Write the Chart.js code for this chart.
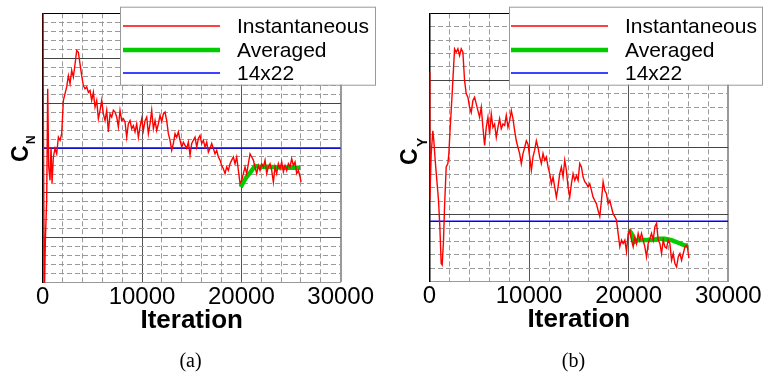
<!DOCTYPE html>
<html>
<head>
<meta charset="utf-8">
<script src="https://cdn.jsdelivr.net/npm/chart.js@4.4.1/dist/chart.umd.min.js"></script>
<style>
  html, body { margin: 0; padding: 0; background: #fff; }
  #wrap { position: relative; width: 770px; height: 373px; overflow: hidden; }
  .panel { position: absolute; top: 0; width: 385px; height: 373px; }
  .cap { position: absolute; top: 349px; width: 385px; text-align: center;
         font: 20px "Liberation Serif", "Times New Roman", serif; color: #000; }
</style>
</head>
<body>
<div id="wrap">
  <div class="panel" style="left:0"><canvas id="chartN" width="385" height="373"></canvas></div>
  <div class="panel" style="left:385px"><canvas id="chartY" width="385" height="373"></canvas></div>
  <div class="cap" style="left:-2px">(a)</div>
  <div class="cap" style="left:381px">(b)</div>
</div>
<script>
// --- data (y axes carry no tick labels, units arbitrary) ---
const xTicks = [0, 10000, 20000, 30000];
const refIter = [0, 30000];

// (a) C_N
const nIter = [0,168,270,400,503,604,738,839,940,1074,1242,1409,1577,1745,1913,
  2081,2248,2416,2584,2752,2919,3087,3255,3423,3591,3758,3926,4094,4262,4430,4597,4765,4933,5101,5268,
  5436,5604,5772,5940,6107,6275,6443,6611,6779,6946,7114,7282,7450,7617,7785,7953,8121,8289,8456,8624,
  8792,8960,9128,9295,9463,9631,9799,9966,10134,10302,10470,10638,10805,10973,11141,11309,11477,11644,11812,11980,
  12148,12315,12483,12651,12819,12987,13154,13322,13490,13658,13826,13993,14161,14329,14497,14664,14832,15000,15168,15336,
  15503,15671,15839,16007,16174,16342,16510,16678,16846,17013,17181,17349,17517,17685,17852,18020,18188,18356,18523,18691,
  18859,19027,19195,19362,19530,19698,19866,20034,20201,20369,20537,20705,20872,21040,21208,21376,21544,21711,21879,22047,
  22215,22383,22550,22718,22886,23054,23221,23389,23557,23725,23893,24060,24228,24396,24564,24732,24899,25067,25235,25403,
  25570,25738,25906,26007];
const nInst = [6.2,-0.3,0.95,1.84,4.32,2.58,2.28,3.02,2.22,2.8,2.99,2.87,3.24,3.17,3.32,
  4.06,4.21,4.36,4.61,4.43,4.73,4.58,4.87,5.17,5.13,
  4.87,4.61,4.39,4.32,4.36,4.24,4.28,4.06,4.24,3.91,
  4.06,3.65,3.84,4.06,3.76,3.61,3.84,3.36,3.76,3.69,
  3.84,3.8,3.69,3.47,3.84,3.61,3.65,3.58,3.24,3.54,
  3.61,3.43,3.5,3.36,3.54,3.24,3.47,3.65,3.39,3.61,
  3.69,3.32,3.54,3.84,3.43,3.61,3.39,3.54,3.73,3.58,
  3.76,3.8,3.61,3.32,3.17,2.95,3.1,3.32,3.24,3.36,
  3.17,3.02,3.13,3.06,2.99,3.13,2.84,3.1,3.17,3.24,
  3.02,3.21,3.28,3.1,3.17,3.02,3.13,2.91,2.99,3.1,
  2.99,2.87,2.95,2.8,2.73,2.61,2.54,2.43,2.58,2.5,
  2.65,2.73,2.8,2.65,2.8,2.5,2.21,2.28,2.43,2.58,
  2.43,2.65,2.87,2.8,2.73,2.58,2.43,2.61,2.5,2.65,
  2.58,2.73,2.43,2.58,2.65,2.5,2.24,2.58,2.43,2.65,
  2.54,2.69,2.47,2.61,2.5,2.65,2.58,2.76,2.61,2.69,
  2.43,2.5,2.36,2.24];
const nAvgIter = [19933,20201,20537,20940,21376,21879,22550,23557,24564,25906];
const nAvg = [2.13,2.24,2.36,2.47,2.6,2.58,2.58,2.57,2.56,2.56];
const nRef = [3.0, 3.0];

// (b) C_Y
const yIter = [0,34,168,335,436,570,738,905,1039,1173,1274,1408,1509,1676,1844,1944,2078,2179,2347,2514,
  2682,2849,3017,3185,3352,3520,3688,
  3855,4023,4190,4358,4526,4693,4861,5028,5196,5364,
  5531,5699,5867,6034,6202,6369,6537,6705,6872,7040,
  7207,7375,7543,7710,7878,8046,8213,8381,8548,8716,
  8884,9051,9219,9386,9554,9722,9889,10057,10225,10392,
  10560,10727,10895,11063,11230,11398,11565,11733,11901,12068,
  12236,12404,12571,12739,12906,13074,13242,13409,13577,13744,
  13912,14080,14247,14415,14583,14750,14918,15085,15253,15421,
  15588,15756,15923,16091,16259,16426,16594,16762,16929,17097,
  17264,17432,17600,17767,17935,18102,18270,18438,18605,18773,
  18940,19108,19276,19443,19611,19779,19946,20114,20281,20449,
  20616,20784,20952,21119,21287,21455,21622,21790,21957,22125,
  22292,22460,22628,22795,22963,23131,23298,23466,23633,23801,
  23968,24136,24304,24471,24639,24807,24974,25142,25309,25477,
  25645,25812,25913,26047];
const yInst = [3.12,1.21,1.9,2.25,2.1,1.81,1.51,1.21,0.82,0.27,0.25,0.62,1.11,1.71,1.76,1.91,2.3,2.55,3.0,3.47,
  3.42,3.47,3.37,3.47,3.42,3.0,2.8,
  2.75,2.6,2.52,2.7,2.75,2.65,2.55,2.45,2.6,2.3,
  2.03,2.3,2.45,2.2,2.5,2.3,2.35,2.15,2.3,2.43,
  2.28,2.35,2.33,2.48,2.3,2.4,2.55,2.43,2.25,2.1,
  2.0,1.91,1.76,1.91,2.0,2.1,2.05,1.86,1.66,1.86,
  1.96,2.1,2.0,1.86,1.76,1.91,1.81,1.86,1.71,1.61,
  1.46,1.56,1.41,1.26,1.41,1.61,1.71,1.56,1.81,1.66,
  1.41,1.26,1.46,1.61,1.51,1.58,1.51,1.76,1.71,1.56,
  1.49,1.46,1.41,1.46,1.36,1.26,1.21,1.16,1.06,0.97,
  1.21,1.49,1.36,1.31,1.16,1.21,1.11,1.01,0.97,0.92,
  0.72,0.52,0.62,0.57,0.62,0.45,0.72,0.77,0.62,0.52,
  0.67,0.57,0.72,0.62,0.72,0.62,0.52,0.37,0.57,0.64,
  0.72,0.62,0.82,0.87,0.62,0.57,0.42,0.62,0.52,0.5,
  0.62,0.57,0.32,0.42,0.27,0.22,0.37,0.42,0.32,0.42,
  0.52,0.54,0.5,0.35];
const yAvgIter = [20045,20281,20548,20952,22292,22963,23633,24304,24974,25645,25980];
const yAvg = [0.77,0.72,0.59,0.62,0.62,0.64,0.64,0.62,0.58,0.54,0.54];
const yRef = [0.9, 0.9];

const FONT = '"Liberation Sans", Arial, sans-serif';
Chart.defaults.font.family = FONT;
Chart.defaults.color = '#000';

function toXY(xs, ys) {
  return xs.map((x, i) => ({ x: x, y: ys[i] }));
}

// rotated y-axis title with a subscript (C_N / C_Y)
const yTitle = {
  id: 'yTitle',
  afterDraw(chart, args, o) {
    const c = chart.ctx;
    c.save();
    c.translate(o.x, o.y);
    c.rotate(-Math.PI / 2);
    c.fillStyle = '#000';
    c.textAlign = 'left';
    c.textBaseline = 'alphabetic';
    c.font = 'bold 23px ' + FONT;
    c.fillText(o.main, 0, 0);
    c.font = 'bold ' + o.subSize + 'px ' + FONT;
    c.fillText(o.sub, o.subDx, o.subDy);
    c.restore();
  }
};

// framed legend that sticks out past the plot, like the original
const boxLegend = {
  id: 'boxLegend',
  afterDraw(chart, args, o) {
    const c = chart.ctx;
    c.save();
    c.fillStyle = '#fff';
    c.fillRect(o.x, o.y, o.w, o.h);
    c.strokeStyle = '#999';
    c.lineWidth = 1;
    c.strokeRect(o.x + 0.5, o.y + 0.5, o.w, o.h);
    chart.data.datasets.forEach((ds, i) => {
      const yy = o.y + o.rows[i];
      c.strokeStyle = ds.borderColor;
      c.lineWidth = ds.borderWidth;
      c.beginPath();
      c.moveTo(o.x + o.line0, yy);
      c.lineTo(o.x + o.line1, yy);
      c.stroke();
      c.fillStyle = '#000';
      c.font = '21px ' + FONT;
      c.textAlign = 'left';
      c.textBaseline = 'middle';
      c.fillText(ds.label, o.x + o.text, yy + 1);
    });
    c.restore();
  }
};

function makeChart(id, p) {
  return new Chart(document.getElementById(id), {
    type: 'line',
    data: {
      datasets: [
        { label: 'Instantaneous', data: toXY(p.iter, p.inst), borderColor: '#ff0000', borderWidth: 1.4, pointRadius: 0, tension: 0 },
        { label: 'Averaged', data: toXY(p.avgIter, p.avg), borderColor: '#00cc00', borderWidth: 4.5, pointRadius: 0, tension: 0 },
        { label: '14x22', data: toXY(refIter, p.ref), borderColor: '#0000ff', borderWidth: 1.6, pointRadius: 0 }
      ]
    },
    options: {
      responsive: false,
      animation: false,
      devicePixelRatio: 1,
      layout: { autoPadding: false, padding: { left: 0, top: 13.3, right: p.padRight, bottom: p.padBottom } },
      plugins: {
        legend: { display: false },
        tooltip: { enabled: false },
        yTitle: p.title,
        boxLegend: p.legend
      },
      scales: {
        xMinor: {
          type: 'linear', position: 'bottom', min: 0, max: 30000, z: -1,
          ticks: { display: false, stepSize: 2000 },
          grid: { color: '#9a9a9a', lineWidth: 1, drawTicks: false },
          border: { display: false, dash: [5, 3] },
          afterFit(s) { s.height = 0; }
        },
        x: {
          type: 'linear', position: 'bottom', min: 0, max: 30000,
          ticks: {
            stepSize: 10000, autoSkip: false, maxRotation: 0, padding: 0,
            font: { size: 24 }, color: '#000',
            callback: v => xTicks.includes(v) ? String(v) : ''
          },
          grid: {
            color: c => c.tick.value === 30000 ? '#999' : '#555',
            lineWidth: c => c.tick.value === 30000 ? 2 : 1,
            drawTicks: false
          },
          border: { color: '#999', width: 1 },
          title: { display: true, text: 'Iteration', font: { size: 26, weight: 'bold' }, color: '#000', padding: 0 },
          afterFit(s) { s.height = 54; }
        },
        yMinor: {
          type: 'linear', position: 'left', min: 0, max: p.yMax, z: -1,
          ticks: { display: false, stepSize: 0.2 },
          grid: { color: '#9a9a9a', lineWidth: 1, drawTicks: false },
          border: { display: false, dash: [5, 3] },
          afterFit(s) { s.width = 0; }
        },
        y: {
          type: 'linear', position: 'left', min: 0, max: p.yMax,
          ticks: { display: false, stepSize: 1 },
          grid: { color: c => c.tick.value === p.yMax ? '#000' : '#444', lineWidth: 1, drawTicks: false },
          border: { color: '#000', width: 1.5 },
          afterFit(s) { s.width = p.left; }
        }
      }
    },
    plugins: [yTitle, boxLegend]
  });
}

makeChart('chartN', {
  iter: nIter, inst: nInst, avgIter: nAvgIter, avg: nAvg, ref: nRef,
  yMax: 6, left: 42.7, padRight: 44.3, padBottom: 36.3,
  title: { x: 28, y: 162, main: 'C', sub: 'N', subSize: 12, subDx: 18, subDy: 7 },
  legend: { x: 120, y: 6.7, w: 255, h: 78, rows: [19.3, 43.3, 66.3], line0: 3, line1: 100, text: 117 }
});

makeChart('chartY', {
  iter: yIter, inst: yInst, avgIter: yAvgIter, avg: yAvg, ref: yRef,
  yMax: 4, left: 44.5, padRight: 41.7, padBottom: 37.3,
  title: { x: 32, y: 165, main: 'C', sub: 'Y', subSize: 14, subDx: 18, subDy: 10 },
  legend: { x: 124, y: 6.7, w: 253, h: 78, rows: [19.3, 43.3, 66.3], line0: 2, line1: 99, text: 116 }
});
</script>
</body>
</html>
